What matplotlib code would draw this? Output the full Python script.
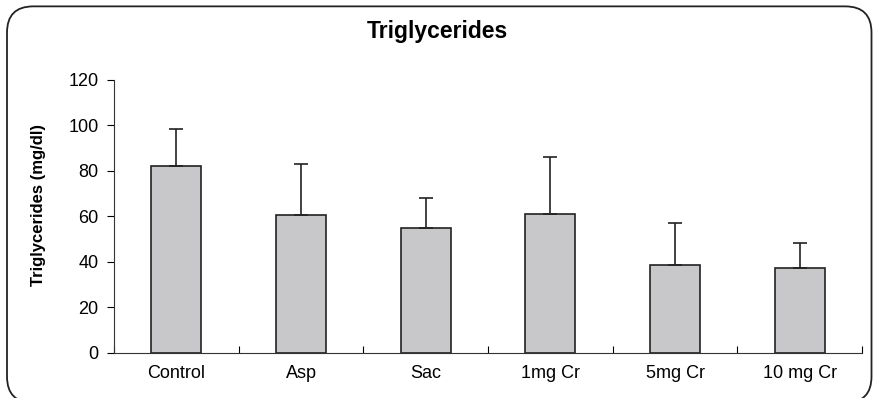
import matplotlib.pyplot as plt
from matplotlib.patches import FancyBboxPatch
import numpy as np

plt.rcParams['font.family'] = ['Liberation Sans', 'DejaVu Sans']

groups = ['Control', 'Asp', 'Sac', '1mg Cr', '5mg Cr', '10 mg Cr']
means = [82.3, 60.5, 54.7, 61.0, 38.6, 37.1]
upper = [98.5, 82.9, 67.9, 86.1, 57.2, 48.4]
errs = [u - m for u, m in zip(upper, means)]

fig = plt.figure(figsize=(8.75, 3.98), dpi=100)

# rounded frame round the whole chart
frame = FancyBboxPatch((0.008, -0.012), 0.988, 0.996, boxstyle='round,pad=0,rounding_size=0.03',
                       transform=fig.transFigure, fill=False, edgecolor='#222222', linewidth=1.3,
                       mutation_aspect=8.75 / 3.98)
fig.patches.append(frame)

ax = fig.add_axes([0.1303, 0.114, 0.855, 0.685])
x = np.arange(len(groups))
ax.bar(x, means, width=0.4, color='#c8c8ca', edgecolor='#222222', linewidth=1.2, zorder=2)
ax.errorbar(x, means, yerr=[np.zeros(len(errs)), errs], fmt='none', ecolor='#222222',
            elinewidth=1.2, capsize=5, capthick=1.2, zorder=3)

ax.set_xlim(-0.5, len(groups) - 0.5)
ax.set_ylim(0, 120)
ax.set_yticks(range(0, 121, 20))
ax.set_xticks(x)
ax.set_xticklabels(groups, fontsize=13)
ax.set_xticks(np.arange(-0.5, len(groups), 1), minor=True)
ax.tick_params(axis='x', which='major', length=0, pad=9)
ax.tick_params(axis='x', which='minor', length=5, direction='in', width=0.8)
ax.tick_params(axis='y', length=5, width=0.8, labelsize=13, pad=6)
for s in ['top', 'right']:
    ax.spines[s].set_visible(False)
for s in ['left', 'bottom']:
    ax.spines[s].set_linewidth(0.8)
    ax.spines[s].set_color('#333333')

ax.set_ylabel('Triglycerides (mg/dl)', fontsize=12, fontweight='bold')
ax.yaxis.set_label_coords(-0.091, 0.54)
fig.text(0.5, 0.92, 'Triglycerides', ha='center', va='center', fontsize=16.5, fontweight='bold')

fig.savefig('out.png', dpi=100)
